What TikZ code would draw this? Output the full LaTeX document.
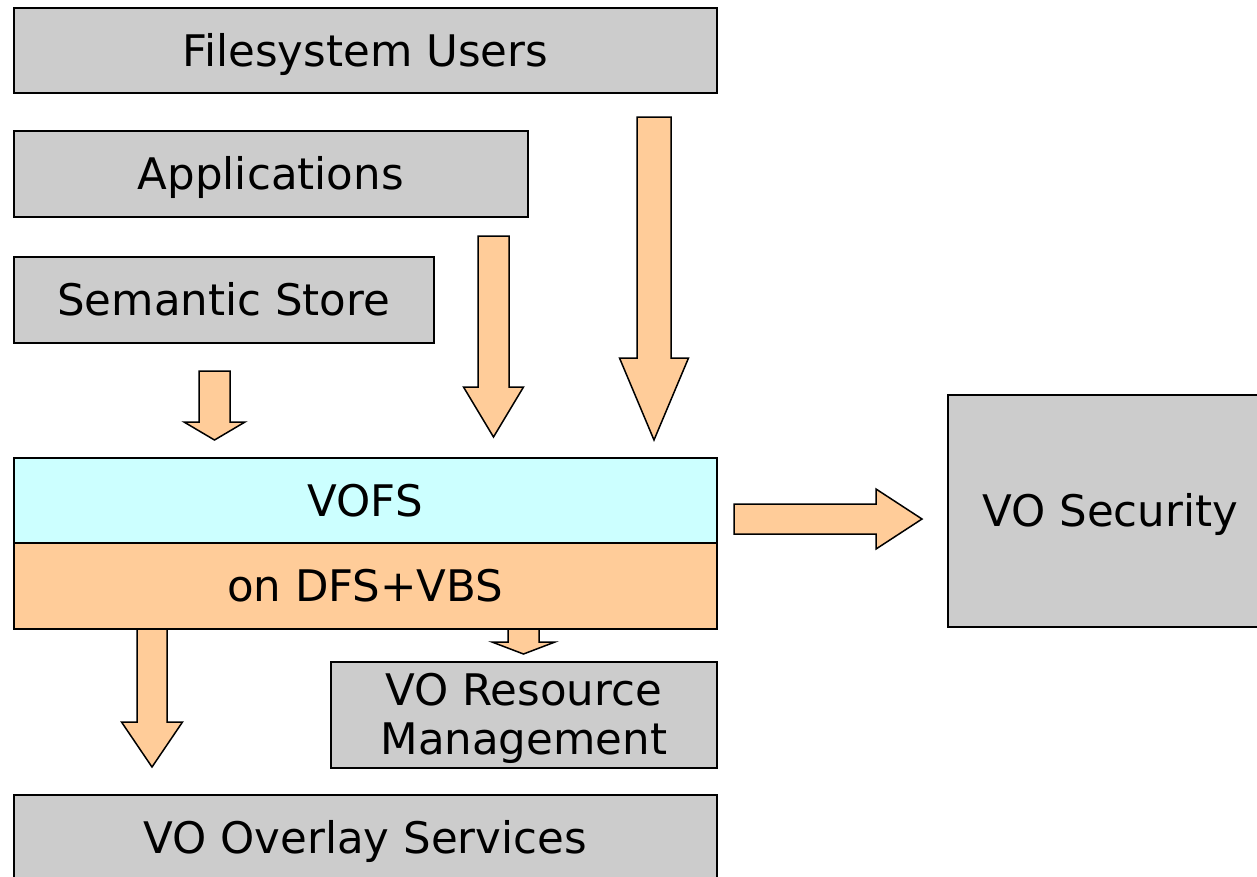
\documentclass[tikz,border=0pt]{standalone}
\usepackage{fontspec}
\setmainfont{DejaVu Sans}
\definecolor{boxgray}{HTML}{CCCCCC}
\definecolor{flow}{HTML}{FFCC99}
\definecolor{vofs}{HTML}{CCFFFF}
\tikzset{
  box/.style={draw=black, line width=1.5pt, fill=boxgray, anchor=north west,
    inner sep=0pt, font=\fontsize{43.5}{49}\selectfont, align=center,
    text height=38pt, text depth=6pt},
  blk/.style={draw=black, line width=1.5pt, fill=flow, line join=miter},
}
% downward block arrow: centre x, top y, head base y, tip y, half shaft, half head
\newcommand\blkdown[6]{%
  \draw[blk] (#1-#5,#2) -- (#1+#5,#2) -- (#1+#5,#3) -- (#1+#6,#3) -- (#1,#4)
    -- (#1-#6,#3) -- (#1-#5,#3) -- cycle;}
\begin{document}
\begin{tikzpicture}[x=1pt,y=-1pt]
  \useasboundingbox (0,0) rectangle (1257,876);

  % arrows leaving the lower layer are drawn first, under the box border
  \blkdown{152}{628}{722}{767}{15}{30.5}
  \blkdown{523.5}{628}{642}{654}{15.5}{31.5}

  % upper stack
  \node[box, minimum width=703pt, minimum height=85pt] (users) at (13,7) {Filesystem Users};
  \node[box, minimum width=514pt, minimum height=86pt] (apps) at (13,130) {Applications};
  \node[box, minimum width=420pt, minimum height=86pt] (sem) at (13,256) {Semantic Store};

  % core layer
  \node[box, fill=vofs, minimum width=703pt, minimum height=85pt] (vofs) at (13,457) {VOFS};
  \node[box, fill=flow, minimum width=703pt, minimum height=86pt] (dfs) at (13,542) {on DFS+VBS};

  % services
  \node[box, minimum width=386pt, minimum height=106pt, text height=85pt, text depth=6pt]
    (res) at (330,661) {VO Resource\\Management};
  \node[box, minimum width=703pt, minimum height=85pt] (overlay) at (13,794) {VO Overlay Services};
  \node[box, minimum width=325pt, minimum height=232pt] (sec) at (947,394) {VO Security};

  % flows into the core layer
  \blkdown{214.5}{371}{422}{440}{15.5}{30.5}
  \blkdown{493.5}{236}{387}{437}{15.5}{30}
  \blkdown{654}{117}{358}{440}{17}{34.5}

  % flow towards security
  \draw[blk] (734,504) -- (876,504) -- (876,489) -- (922,519) -- (876,549)
    -- (876,534) -- (734,534) -- cycle;
\end{tikzpicture}
\end{document}
